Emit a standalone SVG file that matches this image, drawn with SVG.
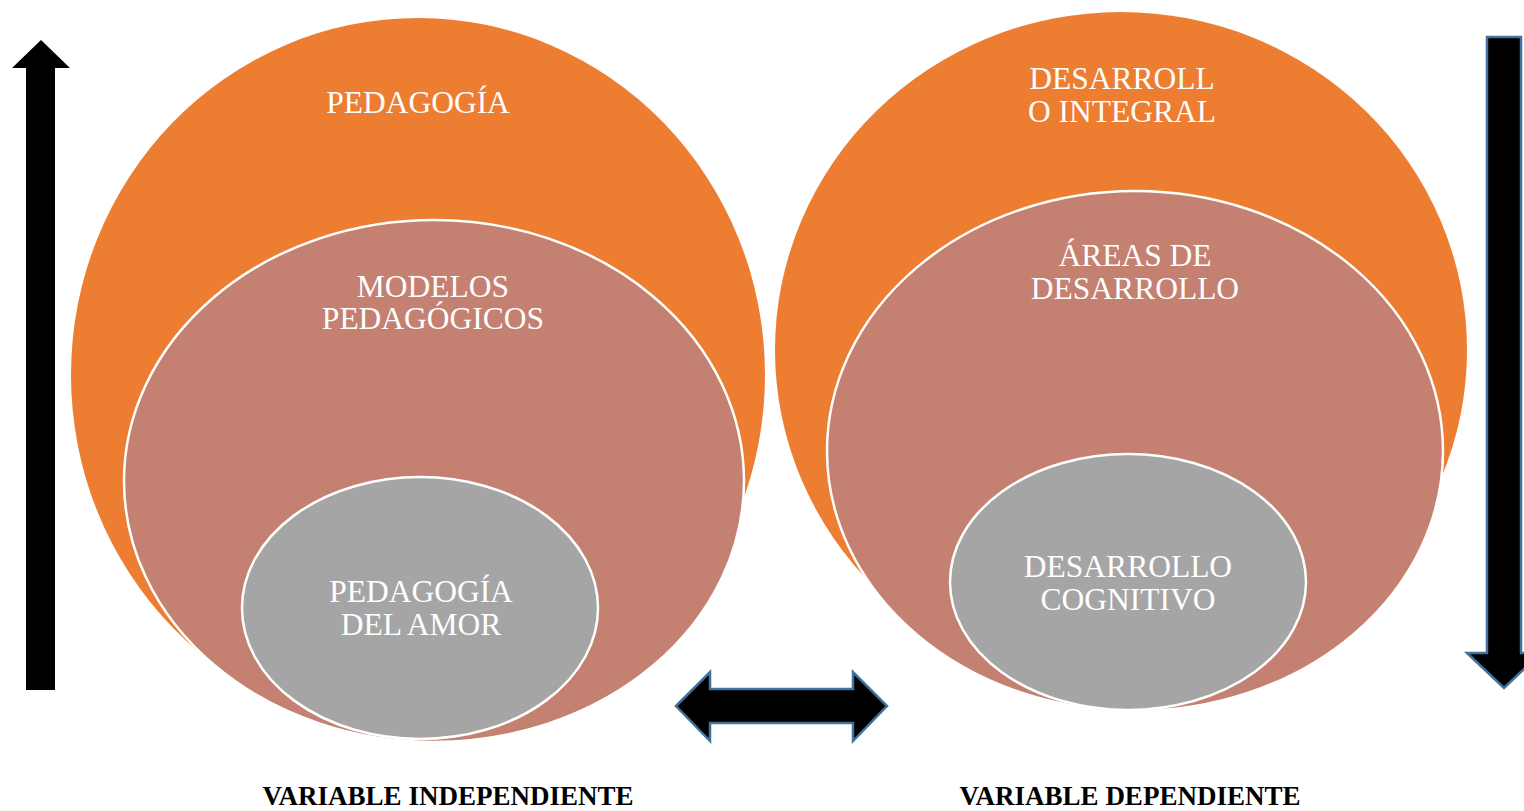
<svg xmlns="http://www.w3.org/2000/svg" width="1524" height="811" viewBox="0 0 1524 811">
<style>
.outer{fill:#ED7D31;}
.mid{fill:#C48070;stroke:#FFFFFF;stroke-width:2.5;}
.inner{fill:#A5A5A5;stroke:#FFFFFF;stroke-width:2.5;}
.lbl{font-family:"Liberation Serif","Times New Roman",serif;font-size:31.5px;fill:#FFFFFF;text-anchor:middle;}
.cap{font-family:"Liberation Serif","Times New Roman",serif;font-size:27px;font-weight:bold;fill:#000000;text-anchor:middle;}
.arr{fill:#000000;stroke:#41719C;stroke-width:2.5;stroke-linejoin:miter;}
</style>
<rect width="1524" height="811" fill="#FFFFFF"/>
<g id="left-outer"><ellipse class="outer" cx="418" cy="375" rx="347" ry="357"/><text class="lbl" x="418" y="113">PEDAGOGÍA</text></g>
<g id="left-mid"><ellipse class="mid" cx="434" cy="481" rx="310" ry="261"/><text class="lbl" x="433" y="297">MODELOS</text><text class="lbl" x="433" y="329">PEDAGÓGICOS</text></g>
<g id="left-inner"><ellipse class="inner" cx="420" cy="608" rx="178" ry="131"/><text class="lbl" x="421" y="602">PEDAGOGÍA</text><text class="lbl" x="421" y="635">DEL AMOR</text></g>
<g id="right-outer"><ellipse class="outer" cx="1121" cy="350" rx="346" ry="338"/><text class="lbl" x="1122" y="89">DESARROLL</text><text class="lbl" x="1122" y="122">O INTEGRAL</text></g>
<g id="right-mid"><ellipse class="mid" cx="1135" cy="451" rx="308" ry="260"/><text class="lbl" x="1135" y="266">ÁREAS DE</text><text class="lbl" x="1135" y="299">DESARROLLO</text></g>
<g id="right-inner"><ellipse class="inner" cx="1128" cy="582" rx="178" ry="128"/><text class="lbl" x="1128" y="577">DESARROLLO</text><text class="lbl" x="1128" y="610">COGNITIVO</text></g>
<g id="connectors">
<polygon points="41,40 70,68 55,68 55,690 26,690 26,68 12,68" fill="#000000"/>
<polygon class="arr" points="1487,37 1521,37 1521,653 1541,653 1504,688 1467,653 1487,653"/>
<polygon class="arr" points="676,706 710,672 710,689 853,689 853,672 887,706 853,741 853,723 710,723 710,741"/>
</g>
<g id="captions">
<text class="cap" x="448" y="805">VARIABLE INDEPENDIENTE</text>
<text class="cap" x="1130" y="805">VARIABLE DEPENDIENTE</text>
</g>
</svg>
